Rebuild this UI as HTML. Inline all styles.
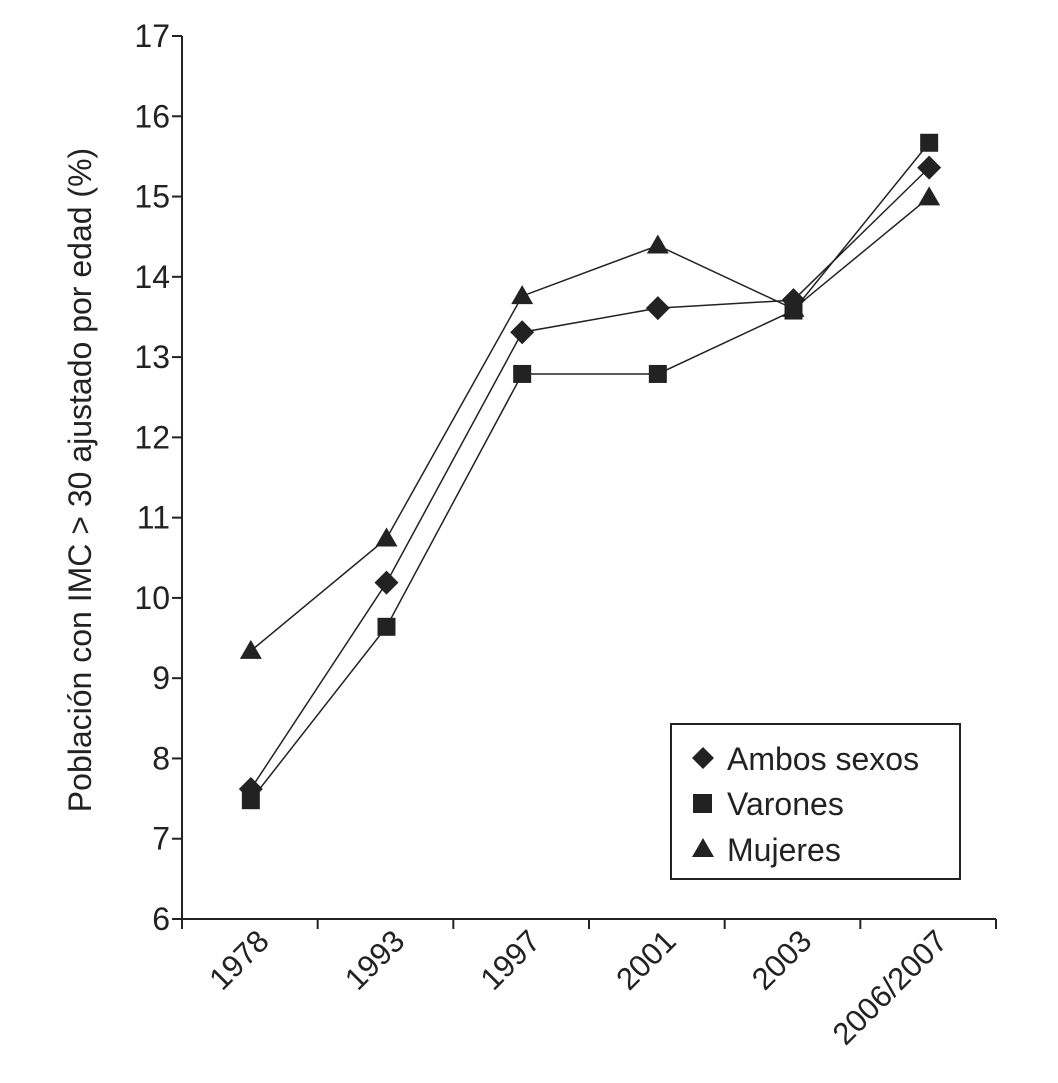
<!DOCTYPE html>
<html><head><meta charset="utf-8"><style>
body{margin:0;background:#fff}
svg{display:block;font-family:"Liberation Sans",Arial,sans-serif}
</style></head><body>
<svg width="1058" height="1083" viewBox="0 0 1058 1083">
<g id="axes"></g><g id="series"></g>
<g>
<rect x="671" y="724" width="289" height="155" fill="#fff" stroke="#222" stroke-width="2"/>
<g><path d="M703 747 L714 758 L703 769 L692 758Z" fill="#222"/><text x="727" y="770" font-size="32" fill="#222">Ambos sexos</text></g>
<g><rect x="693" y="794" width="19" height="19" fill="#222"/><text x="727" y="815" font-size="32" fill="#222">Varones</text></g>
<g><path d="M703 838 L714 857 L692 857Z" fill="#222"/><text x="727" y="861" font-size="32" fill="#222">Mujeres</text></g>
</g>
<text transform="translate(91,480) rotate(-90)" text-anchor="middle" font-size="32" fill="#222">Población con IMC &gt; 30 ajustado por edad (%)</text>
</svg>
<script>
const categories=["1978","1993","1997","2001","2003","2006/2007"];
const ambos=[7.62,10.19,13.31,13.61,13.71,15.36];
const varones=[7.48,9.64,12.79,12.79,13.58,15.67];
const mujeres=[9.34,10.74,13.76,14.39,13.6,14.99];
const yTicks=[6,7,8,9,10,11,12,13,14,15,16,17];
const NS="http://www.w3.org/2000/svg";
const x0=182,x1=996,yMin=6,yMax=17,py0=919,py1=36;
const band=(x1-x0)/categories.length;
const X=i=>x0+band*(i+0.5)+1;
const Y=v=>py0-(v-yMin)/(yMax-yMin)*(py0-py1);
function mk(tag,attrs,parent){const e=document.createElementNS(NS,tag);for(const k in attrs)e.setAttribute(k,attrs[k]);parent.appendChild(e);return e;}
const ax=document.getElementById('axes'),se=document.getElementById('series');
let a=mk('line',{x1:x0,y1:py1,x2:x0,y2:py0,stroke:'#222','stroke-width':2},ax);


a=mk('line',{x1:x0,y1:py0,x2:x1,y2:py0,stroke:'#222','stroke-width':2},ax);


yTicks.forEach(v=>{mk('line',{x1:x0-10,x2:x0,y1:Y(v),y2:Y(v),stroke:'#222','stroke-width':2},ax);
const t=mk('text',{x:x0-12,y:Y(v)+11,'text-anchor':'end','font-size':32,fill:'#222'},ax);t.textContent=v;

});
for(let i=0;i<=categories.length;i++)mk('line',{x1:x0+band*i,x2:x0+band*i,y1:py0,y2:py0+10,stroke:'#222','stroke-width':2},ax);
categories.forEach((c,i)=>{const t=mk('text',{transform:`translate(${X(i)+20},${py0+24}) rotate(-45)`,'text-anchor':'end','font-size':31,fill:'#222'},ax);t.textContent=c;

});
function series(vals,name,marker){const g=mk('g',{},se);


mk('polyline',{points:vals.map((v,i)=>X(i)+','+Y(v)).join(' '),fill:'none',stroke:'#222','stroke-width':1.5},g);
vals.forEach((v,i)=>{const x=X(i),y=Y(v);let m;
if(marker==='d')m=mk('path',{d:`M${x} ${y-12}L${x+12} ${y}L${x} ${y+12}L${x-12} ${y}Z`,fill:'#222'},g);
else if(marker==='s')m=mk('rect',{x:x-9,y:y-9,width:18,height:18,fill:'#222'},g);
else m=mk('path',{d:`M${x} ${y-11}L${x+11} ${y+8}L${x-11} ${y+8}Z`,fill:'#222'},g);

});}
series(mujeres,'series-mujeres','t');
series(varones,'series-varones','s');
series(ambos,'series-ambos','d');
</script>
</body></html>
